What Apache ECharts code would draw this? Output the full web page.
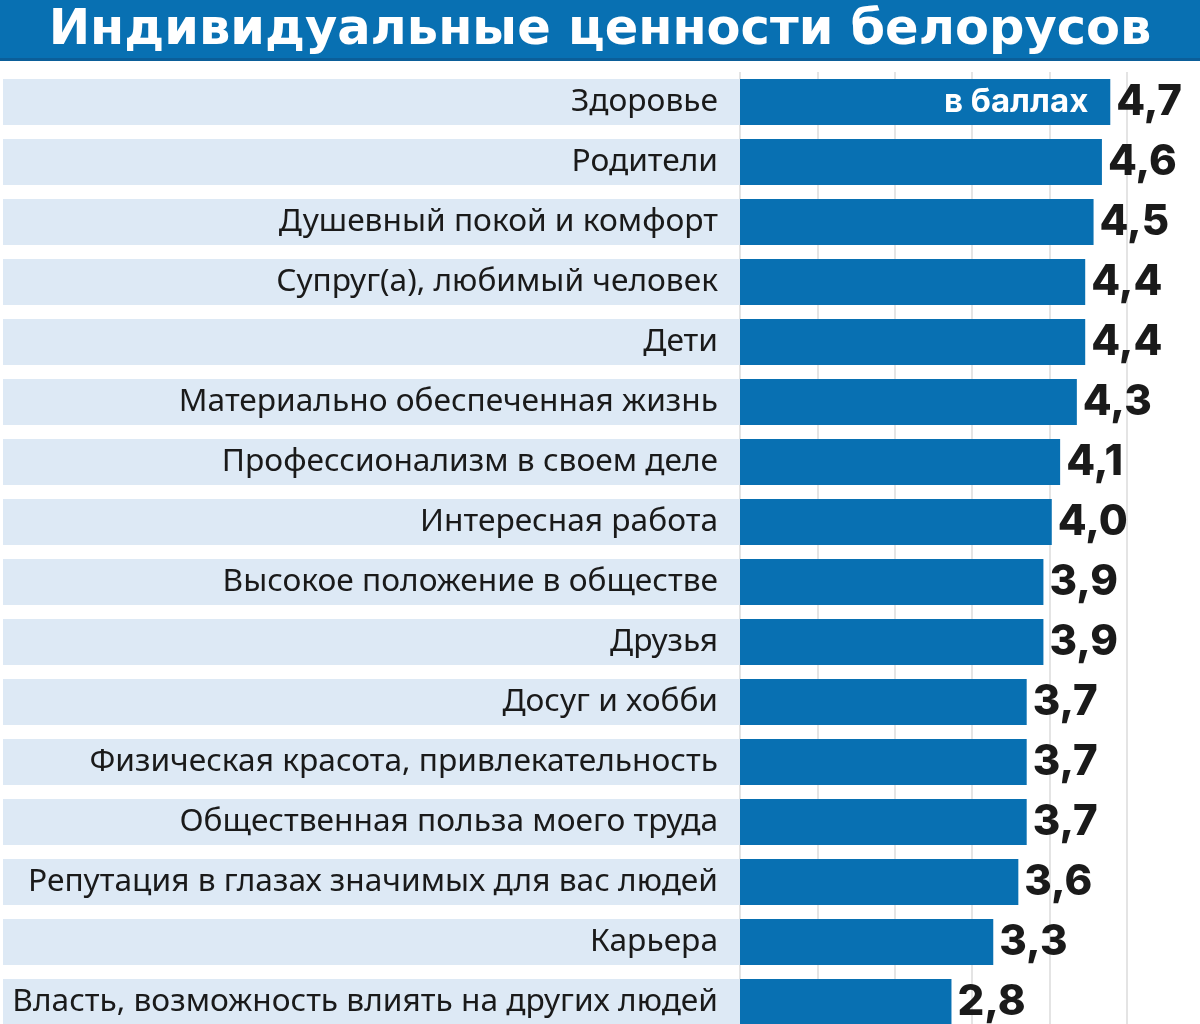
<!DOCTYPE html>
<html>
<head>
<meta charset="utf-8">
<script src="https://cdn.jsdelivr.net/npm/echarts@6/dist/echarts.min.js"></script>
<style>
html,body{margin:0;padding:0;background:#fff;}
#chart{width:1200px;height:1024px;}
</style>
</head>
<body>
<div id="chart"></div>
<script>
const titleText = 'Индивидуальные ценности белорусов';
const unitLabel = 'в баллах';
const categories = [
  'Здоровье',
  'Родители',
  'Душевный покой и комфорт',
  'Супруг(а), любимый человек',
  'Дети',
  'Материально обеспеченная жизнь',
  'Профессионализм в своем деле',
  'Интересная работа',
  'Высокое положение в обществе',
  'Друзья',
  'Досуг и хобби',
  'Физическая красота, привлекательность',
  'Общественная польза моего труда',
  'Репутация в глазах значимых для вас людей',
  'Карьера',
  'Власть, возможность влиять на других людей'
];
const values = [4.7, 4.6, 4.5, 4.4, 4.4, 4.3, 4.1, 4.0, 3.9, 3.9, 3.7, 3.7, 3.7, 3.6, 3.3, 2.8];
const gridTicks = [0, 1, 2, 3, 4, 5];

const chart = echarts.init(document.getElementById('chart'), null, {renderer: 'canvas'});
const BLUE = '#0870b2';

chart.setOption({
  backgroundColor: '#ffffff',
  animation: false,
  graphic: [
    {type: 'rect', left: 0, top: 0, shape: {width: 1200, height: 61}, style: {fill: BLUE}, z: 0},
    {type: 'rect', left: 0, top: 58, shape: {width: 1200, height: 3}, style: {fill: '#0b5e99'}, z: 1}
  ],
  title: {
    text: titleText,
    left: 'center',
    top: 3,
    padding: 0,
    textStyle: {color: '#ffffff', fontFamily: 'DejaVu Sans', fontWeight: 'bold', fontSize: 49.5, lineHeight: 56}
  },
  grid: {left: 740, right: 73, top: 72, height: 960, containLabel: false, outerBoundsMode: 'none'},
  xAxis: [
    {
      type: 'value', min: 0.27, max: 4.9, show: false
    },
    {
      type: 'value', min: gridTicks[0], max: gridTicks[gridTicks.length - 1], interval: 1,
      position: 'bottom',
      axisLine: {show: false}, axisTick: {show: false}, axisLabel: {show: false},
      splitLine: {show: true, lineStyle: {color: '#e4e4e4', width: 2}}
    }
  ],
  yAxis: {
    type: 'category',
    inverse: true,
    data: categories,
    axisLine: {show: false},
    axisTick: {show: false},
    splitLine: {show: false},
    axisLabel: {
      margin: 0,
      align: 'right',
      verticalAlign: 'middle',
      width: 715,
      overflow: 'none',
      height: 46,
      lineHeight: 46,
      padding: [0, 22, 0, 0],
      backgroundColor: '#dde9f5',
      color: '#1a1a1a',
      fontFamily: 'Noto Sans',
      fontSize: 31.7,
      fontWeight: 400
    }
  },
  series: [
    {
      type: 'bar',
      xAxisIndex: 0,
      data: values,
      barWidth: 46,
      itemStyle: {color: BLUE},
      label: {
        show: true,
        position: 'right',
        distance: 6,
        formatter: p => p.value.toFixed(1).replace('.', ','),
        color: '#1a1a1a',
        fontFamily: 'Inter',
        fontWeight: 800,
        fontSize: 42
      },
      z: 2
    },
    {
      type: 'bar',
      xAxisIndex: 0,
      barGap: '-100%',
      barWidth: 46,
      data: values.map((v, i) => i === 0 ? v : null),
      itemStyle: {color: 'rgba(0,0,0,0)'},
      label: {
        show: true,
        position: 'insideRight',
        distance: 22,
        formatter: () => unitLabel,
        color: '#ffffff',
        fontFamily: 'Inter',
        fontWeight: 700,
        fontSize: 33
      },
      silent: true,
      z: 3
    }
  ]
});
</script>
</body>
</html>
